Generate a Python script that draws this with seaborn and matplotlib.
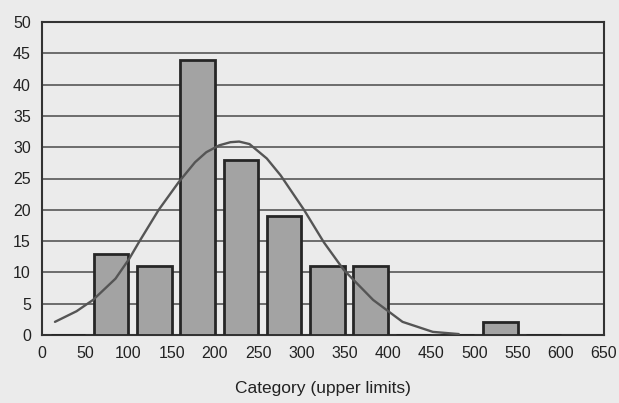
import matplotlib
matplotlib.use("Agg")
import matplotlib.pyplot as plt
import numpy as np
import pandas as pd
import seaborn as sns

# histogram bins (upper limits) and counts
upper_limits = [50, 100, 150, 200, 250, 300, 350, 400, 450, 500, 550, 600]
counts = [0, 13, 11, 44, 28, 19, 11, 11, 0, 0, 2, 0]

# fitted normal curve
curve_x = [15, 40, 59, 85, 101, 112, 135, 158, 177, 190, 205, 218, 228, 240,
           260, 276, 303, 326, 349, 383, 417, 452, 482]
curve_y = [2.1, 3.8, 5.6, 9.0, 12.2, 14.8, 20.0, 24.4, 27.6, 29.2, 30.3, 30.8,
           30.9, 30.5, 28.2, 25.5, 20.0, 14.8, 10.4, 5.6, 2.1, 0.5, 0.15]

x_ticks = list(range(0, 651, 50))
y_ticks = list(range(0, 51, 5))

bg = "#ebebeb"
sns.set_style("white")
plt.rcParams["font.family"] = ["Liberation Sans", "DejaVu Sans"]

fig = plt.figure(figsize=(6.19, 4.03), dpi=100, facecolor=bg)
ax = fig.add_axes([42 / 619, 68 / 403, 562 / 619, 313 / 403])
ax.set_facecolor(bg)

# bars sit just left of their upper limit
bars = pd.DataFrame({"pos": np.array(upper_limits) - 20, "count": counts})
sns.barplot(data=bars, x="pos", y="count", native_scale=True, width=0.8,
            color="#a3a3a3", saturation=1, edgecolor="#262626", linewidth=2,
            ax=ax, zorder=3)

sns.lineplot(x=curve_x, y=curve_y, color="#555555", linewidth=1.7, ax=ax, zorder=4)

for v in y_ticks[1:-1]:
    ax.axhline(v, color="#4a4a4a", linewidth=1.1, zorder=1)

ax.set_xlim(0, 650)
ax.set_ylim(0, 50)
ax.set_xticks(x_ticks)
ax.set_yticks(y_ticks)
ax.tick_params(axis="both", length=0, labelsize=11.5, colors="#222222", pad=8)
ax.set_xlabel("Category (upper limits)", fontsize=12.5, color="#222222", labelpad=14)
ax.set_ylabel("")
for side in ["left", "top", "right", "bottom"]:
    ax.spines[side].set_visible(True)
    ax.spines[side].set_color("#333333")
    ax.spines[side].set_linewidth(1.5)

fig.savefig("out.png", dpi=100, facecolor=bg)
